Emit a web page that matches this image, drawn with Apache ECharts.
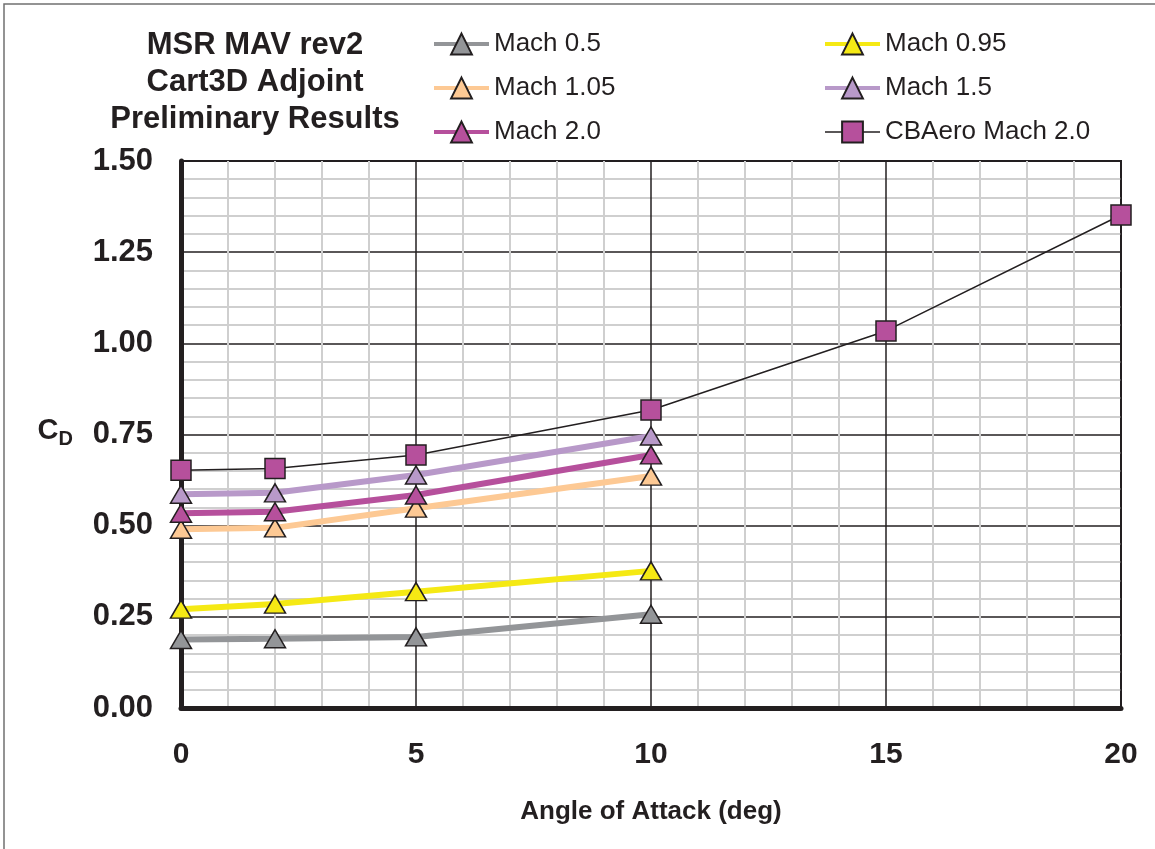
<!DOCTYPE html>
<html>
<head>
<meta charset="utf-8">
<script src="https://cdn.jsdelivr.net/npm/echarts@6/dist/echarts.min.js"></script>
<style>html,body{margin:0;padding:0;background:#fff}#c{width:1155px;height:849px}</style>
</head>
<body>
<div id="c"></div>
<script>
var alpha = [0, 2, 5, 10];
var alphaCB = [0, 2, 5, 10, 15, 20];
var mach05 = [0.188, 0.190, 0.195, 0.257];
var mach095 = [0.271, 0.285, 0.319, 0.376];
var mach105 = [0.490, 0.494, 0.548, 0.636];
var mach15 = [0.586, 0.590, 0.639, 0.746];
var mach20 = [0.534, 0.538, 0.584, 0.694];
var cbaero20 = [0.652, 0.657, 0.694, 0.817, 1.034, 1.352];
var xTicks = [0, 5, 10, 15, 20];
var yTicks = [0, 0.25, 0.5, 0.75, 1.0, 1.25, 1.5];

function pairs(xs, ys) { return xs.map(function (x, i) { return [x, ys[i]]; }); }

var font = 'Liberation Sans, Arial, sans-serif';
function triSeries(name, data, color) {
  return {
    name: name, type: 'line', data: pairs(alpha, data),
    symbol: 'triangle', symbolSize: [21, 18],
    lineStyle: { color: color, width: 6 },
    itemStyle: { color: color, borderColor: '#231f20', borderWidth: 1.5 },
    emphasis: { disabled: true }, animation: false
  };
}
function legItem(name, w) { return { name: name, lineStyle: { width: w } }; }

var legendText = { fontFamily: font, fontSize: 26, color: '#231f20' };
var chart = echarts.init(document.getElementById('c'));
chart.setOption({
  backgroundColor: '#fff',
  animation: false,
  graphic: [{ type: 'rect', shape: { x: 4, y: 4, width: 1300, height: 1000 },
    style: { fill: 'none', stroke: '#707070', lineWidth: 1.5 }, silent: true, z: -10 }],
  title: {
    text: 'MSR MAV rev2\nCart3D Adjoint\nPreliminary Results',
    left: 250, top: 22, textAlign: 'center',
    textStyle: { fontFamily: font, fontSize: 31, fontWeight: 'bold', lineHeight: 37, color: '#231f20' }
  },
  legend: [{
    data: [legItem('Mach 0.5', 4), legItem('Mach 1.05', 4), legItem('Mach 2.0', 4)],
    orient: 'vertical', left: 427, top: 26, itemWidth: 55, itemHeight: 26, itemGap: 18,
    textStyle: legendText
  }, {
    data: [legItem('Mach 0.95', 4), legItem('Mach 1.5', 4), legItem('CBAero Mach 2.0', 1.5)],
    orient: 'vertical', left: 818, top: 26, itemWidth: 55, itemHeight: 26, itemGap: 18,
    textStyle: legendText
  }],
  grid: { left: 181, right: 34, top: 161, bottom: 141, show: true, borderColor: '#231f20', borderWidth: 2 },
  xAxis: {
    type: 'value', min: 0, max: 20, interval: 5,
    name: 'Angle of Attack (deg)', nameLocation: 'middle', nameGap: 91,
    nameTextStyle: { fontFamily: font, fontSize: 26, fontWeight: 'bold', color: '#231f20' },
    axisLine: { show: true, lineStyle: { color: '#231f20', width: 5 } },
    axisTick: { show: false },
    axisLabel: { margin: 32, fontFamily: font, fontSize: 30, fontWeight: 'bold', color: '#231f20',
      formatter: function (v) { return xTicks.indexOf(v) >= 0 ? String(v) : ''; } },
    splitLine: { show: true, lineStyle: { color: '#231f20', width: 1.5 } },
    minorTick: { show: false, splitNumber: 5 },
    minorSplitLine: { show: true, lineStyle: { color: '#cfcfcf', width: 2 } }
  },
  yAxis: {
    type: 'value', min: 0, max: 1.5, interval: 0.25,
    name: '{c|C}{d|D}', nameLocation: 'middle', nameGap: 108, nameRotate: 0,
    nameTextStyle: { rich: {
      c: { fontFamily: font, fontSize: 29, fontWeight: 'bold', color: '#231f20', padding: [0, 0, 8, 0] },
      d: { fontFamily: font, fontSize: 20, fontWeight: 'bold', color: '#231f20', padding: [10, 0, 0, 0] }
    } },
    axisLine: { show: true, lineStyle: { color: '#231f20', width: 5 } },
    axisTick: { show: false },
    axisLabel: { margin: 28, fontFamily: font, fontSize: 31, fontWeight: 'bold', color: '#231f20',
      formatter: function (v) { return v.toFixed(2); } },
    splitLine: { show: true, lineStyle: { color: '#231f20', width: 1.5 } },
    minorTick: { show: false, splitNumber: 5 },
    minorSplitLine: { show: true, lineStyle: { color: '#cfcfcf', width: 2 } }
  },
  series: [
    {
      name: 'CBAero Mach 2.0', type: 'line', data: pairs(alphaCB, cbaero20),
      symbol: 'rect', symbolSize: 20,
      lineStyle: { color: '#231f20', width: 1.5 },
      itemStyle: { color: '#b6509c', borderColor: '#231f20', borderWidth: 1.5 },
      emphasis: { disabled: true }, z: 2
    },
    triSeries('Mach 0.5', mach05, '#939598'),
    triSeries('Mach 0.95', mach095, '#f5e914'),
    triSeries('Mach 1.05', mach105, '#fdc994'),
    triSeries('Mach 1.5', mach15, '#b899c9'),
    triSeries('Mach 2.0', mach20, '#b6509c')
  ]
});
</script>
</body>
</html>
